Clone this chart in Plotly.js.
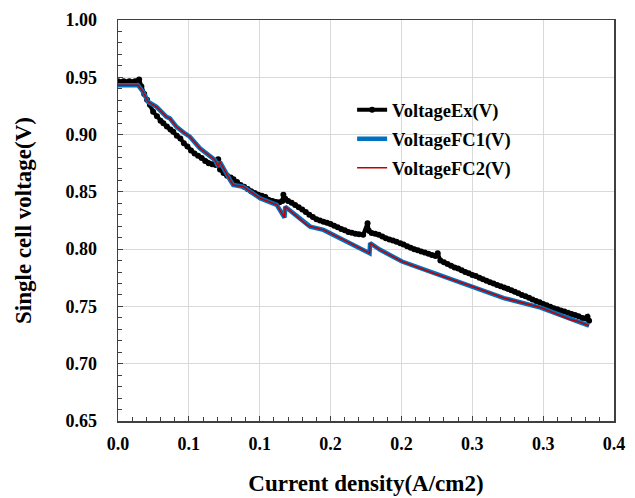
<!DOCTYPE html>
<html>
<head>
<meta charset="utf-8">
<script src="https://cdn.plot.ly/plotly-3.0.1.min.js"></script>
<style>html,body{margin:0;padding:0;background:#fff;}#chart{width:635px;height:498px;}</style>
</head>
<body>
<div id="chart"></div>
<script>
const exX = [0.000, 0.004, 0.008, 0.012, 0.0149, 0.0165, 0.0185, 0.0205, 0.0225, 0.0248, 0.0275, 0.0300, 0.0320, 0.0345, 0.0370, 0.0390, 0.0415, 0.0440, 0.0465, 0.0490, 0.0515, 0.0540, 0.0565, 0.0590, 0.0615, 0.0640, 0.0665, 0.0690, 0.0707, 0.0720, 0.0745, 0.0770, 0.0795, 0.0815, 0.0840, 0.0865, 0.0890, 0.0915, 0.0940, 0.0965, 0.0990, 0.1015, 0.1040, 0.1065, 0.1090, 0.1115, 0.1140, 0.1160, 0.1167, 0.1180, 0.1200, 0.1225, 0.1250, 0.1275, 0.1300, 0.1325, 0.1350, 0.1375, 0.1400, 0.1425, 0.1450, 0.1475, 0.1500, 0.1525, 0.1550, 0.1575, 0.1600, 0.1625, 0.1650, 0.1675, 0.1700, 0.1730, 0.1761, 0.1770, 0.1790, 0.1815, 0.1840, 0.1865, 0.1890, 0.1915, 0.1940, 0.1965, 0.1992, 0.2015, 0.2040, 0.2065, 0.2090, 0.2115, 0.2140, 0.2165, 0.2190, 0.2215, 0.2240, 0.2256, 0.2275, 0.2300, 0.2325, 0.2350, 0.2375, 0.2400, 0.2425, 0.2450, 0.2475, 0.2500, 0.2525, 0.2550, 0.2575, 0.2600, 0.2625, 0.2650, 0.2675, 0.2700, 0.2725, 0.2750, 0.2775, 0.2800, 0.2825, 0.2850, 0.2875, 0.2900, 0.2925, 0.2950, 0.2975, 0.3000, 0.3025, 0.3050, 0.3075, 0.3100, 0.3125, 0.3150, 0.3175, 0.3200, 0.3225, 0.3250, 0.3275, 0.3300, 0.3313, 0.3324];
const exY = [0.9466, 0.9466, 0.9466, 0.9466, 0.9480, 0.9420, 0.9355, 0.9305, 0.9260, 0.9200, 0.9160, 0.9120, 0.9098, 0.9070, 0.9045, 0.9024, 0.8990, 0.8965, 0.8925, 0.8895, 0.8860, 0.8835, 0.8815, 0.8795, 0.8770, 0.8750, 0.8740, 0.8735, 0.8784, 0.8695, 0.8665, 0.8640, 0.8625, 0.8610, 0.8585, 0.8560, 0.8545, 0.8525, 0.8505, 0.8490, 0.8475, 0.8465, 0.8455, 0.8430, 0.8420, 0.8412, 0.8410, 0.8420, 0.8475, 0.8440, 0.8420, 0.8405, 0.8386, 0.8365, 0.8345, 0.8325, 0.8300, 0.8280, 0.8260, 0.8250, 0.8240, 0.8230, 0.8220, 0.8205, 0.8190, 0.8175, 0.8165, 0.8150, 0.8142, 0.8135, 0.8130, 0.8125, 0.8226, 0.8160, 0.8140, 0.8135, 0.8125, 0.8110, 0.8095, 0.8085, 0.8075, 0.8065, 0.8052, 0.8040, 0.8025, 0.8012, 0.8000, 0.7990, 0.7980, 0.7970, 0.7960, 0.7948, 0.7940, 0.7965, 0.7900, 0.7885, 0.7870, 0.7855, 0.7840, 0.7830, 0.7815, 0.7800, 0.7790, 0.7775, 0.7765, 0.7750, 0.7738, 0.7725, 0.7712, 0.7700, 0.7688, 0.7676, 0.7665, 0.7655, 0.7642, 0.7628, 0.7615, 0.7600, 0.7588, 0.7575, 0.7560, 0.7548, 0.7536, 0.7522, 0.7510, 0.7498, 0.7485, 0.7475, 0.7465, 0.7455, 0.7445, 0.7435, 0.7425, 0.7415, 0.7400, 0.7395, 0.7410, 0.7375];

const fc1X = [0.000, 0.0141, 0.0177, 0.0212, 0.0272, 0.0342, 0.0366, 0.0413, 0.0472, 0.0507, 0.0578, 0.0625, 0.0684, 0.0707, 0.0719, 0.0790, 0.0813, 0.0884, 0.1002, 0.1120, 0.1175, 0.1180, 0.1332, 0.1356, 0.1450, 0.1638, 0.1775, 0.1779, 0.1850, 0.2004, 0.2227, 0.2500, 0.2723, 0.2982, 0.3195, 0.3242, 0.3324];
const fc1Y = [0.9431, 0.9431, 0.9373, 0.9286, 0.9242, 0.9155, 0.9141, 0.9068, 0.9010, 0.8981, 0.8880, 0.8836, 0.8778, 0.8720, 0.8763, 0.8604, 0.8560, 0.8545, 0.8444, 0.8386, 0.8275, 0.8371, 0.8212, 0.8197, 0.8168, 0.8052, 0.7965, 0.8052, 0.7994, 0.7892, 0.7790, 0.7674, 0.7573, 0.7490, 0.7384, 0.7370, 0.7332];

const fc2X = [0.000, 0.0141, 0.0177, 0.0212, 0.0272, 0.0342, 0.0366, 0.0413, 0.0472, 0.0507, 0.0578, 0.0625, 0.0684, 0.0707, 0.0719, 0.0790, 0.0813, 0.0884, 0.1002, 0.1120, 0.1175, 0.1180, 0.1332, 0.1356, 0.1450, 0.1638, 0.1775, 0.1779, 0.1850, 0.2004, 0.2227, 0.2500, 0.2723, 0.2982, 0.3195, 0.3242, 0.3324];
const fc2Y = [0.9431, 0.9431, 0.9373, 0.9286, 0.9242, 0.9155, 0.9141, 0.9068, 0.9010, 0.8981, 0.8880, 0.8836, 0.8778, 0.8720, 0.8763, 0.8604, 0.8560, 0.8545, 0.8444, 0.8386, 0.8275, 0.8371, 0.8212, 0.8197, 0.8168, 0.8052, 0.7965, 0.8052, 0.7994, 0.7892, 0.7790, 0.7674, 0.7573, 0.7490, 0.7384, 0.7370, 0.7332];

const seriesNames = ["VoltageEx(V)", "VoltageFC1(V)", "VoltageFC2(V)"];
const xTickVals = [0, 0.05, 0.10, 0.15, 0.20, 0.25, 0.30, 0.35];
const xTickText = ["0.0", "0.1", "0.1", "0.2", "0.2", "0.3", "0.3", "0.4"];
const yTickVals = [0.65, 0.70, 0.75, 0.80, 0.85, 0.90, 0.95, 1.00];
const yTickText = ["0.65", "0.70", "0.75", "0.80", "0.85", "0.90", "0.95", "1.00"];

const FONT = "'Liberation Serif', 'Times New Roman', serif";

const traces = [
  {x: exX, y: exY, name: seriesNames[0], type: 'scatter', mode: 'lines+markers',
   line: {color: '#000000', width: 4}, marker: {color: '#000000', size: 6, symbol: 'circle'},
   legendgroup: 'a'},
  {x: fc1X, y: fc1Y, name: seriesNames[1], type: 'scatter', mode: 'lines',
   line: {color: '#0070C0', width: 4.5}, legendgroup: 'b'},
  {x: fc2X, y: fc2Y, name: seriesNames[2], type: 'scatter', mode: 'lines',
   line: {color: '#C00000', width: 1.5}, legendgroup: 'c'}
];

const axisCommon = {
  showgrid: true, gridcolor: '#d9d9d9', gridwidth: 1,
  zeroline: false, showline: true, linecolor: '#404040', linewidth: 1.5,
  mirror: true, ticks: 'inside', ticklen: 5, tickcolor: '#404040', tickwidth: 1,
  tickfont: {family: FONT, size: 18, color: '#000000', weight: 'bold'}
};

const layout = {
  width: 635, height: 498,
  margin: {l: 118, r: 21, t: 20, b: 77},
  paper_bgcolor: '#ffffff', plot_bgcolor: '#ffffff',
  font: {family: FONT, color: '#000000'},
  showlegend: true,
  legend: {x: 0.472, xanchor: 'left', y: 0.8225, yanchor: 'top',
    font: {family: FONT, size: 18.5, color: '#000000', weight: 'bold'},
    bgcolor: 'rgba(0,0,0,0)', tracegroupgap: 2, itemwidth: 30},
  xaxis: Object.assign({}, axisCommon, {
    range: [0, 0.35], tickmode: 'array', tickvals: xTickVals, ticktext: xTickText,
    ticklabelstandoff: 6,
    minor: {dtick: 0.01, ticks: 'inside', ticklen: 4, tickcolor: '#404040', showgrid: false},
    title: {text: 'Current density(A/cm2)', standoff: 22,
      font: {family: FONT, size: 23, color: '#000000', weight: 'bold'}}
  }),
  yaxis: Object.assign({}, axisCommon, {
    range: [0.65, 1.00], tickmode: 'array', tickvals: yTickVals, ticktext: yTickText,
    ticklabelstandoff: 16,
    minor: {dtick: 0.01, ticks: 'inside', ticklen: 4, tickcolor: '#404040', showgrid: false},
    title: {text: 'Single cell voltage(V)', standoff: 27,
      font: {family: FONT, size: 23, color: '#000000', weight: 'bold'}}
  })
};

Plotly.newPlot('chart', traces, layout, {displayModeBar: false, staticPlot: true});
</script>
</body>
</html>
